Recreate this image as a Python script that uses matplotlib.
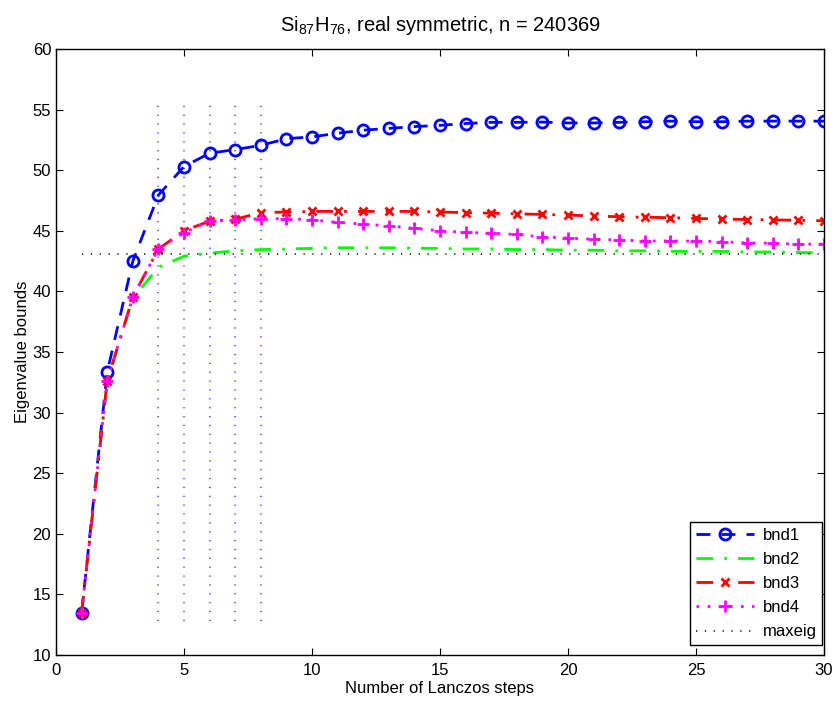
import numpy as np
import matplotlib.pyplot as plt

plt.rcParams['font.family'] = ['Liberation Sans', 'DejaVu Sans']
plt.rcParams['mathtext.fontset'] = 'custom'
plt.rcParams['mathtext.rm'] = 'Liberation Sans'

steps = np.arange(1, 31)
bnd1 = [13.5, 33.35, 42.5, 47.95, 50.3, 51.4, 51.7, 52.05, 52.6, 52.75,
        53.05, 53.3, 53.45, 53.6, 53.7, 53.85, 53.95, 53.95, 53.97, 53.9,
        53.9, 53.95, 54.0, 54.05, 54.0, 54.0, 54.05, 54.05, 54.05, 54.05]
bnd2 = [13.5, 32.6, 39.4, 42.0, 42.9, 43.15, 43.35, 43.45, 43.5, 43.55,
        43.6, 43.6, 43.6, 43.55, 43.55, 43.5, 43.5, 43.45, 43.45, 43.4,
        43.4, 43.35, 43.35, 43.3, 43.3, 43.3, 43.25, 43.25, 43.2, 43.2]
bnd3 = [13.5, 32.6, 39.55, 43.5, 45.0, 45.8, 45.95, 46.5, 46.55, 46.6,
        46.6, 46.6, 46.6, 46.6, 46.55, 46.5, 46.45, 46.4, 46.35, 46.3,
        46.22, 46.16, 46.12, 46.08, 46.02, 45.97, 45.93, 45.9, 45.87, 45.82]
bnd4 = [13.5, 32.6, 39.55, 43.5, 44.85, 45.8, 45.9, 46.0, 46.0, 45.9,
        45.7, 45.56, 45.4, 45.2, 45.0, 44.87, 44.8, 44.7, 44.5, 44.4,
        44.3, 44.25, 44.16, 44.16, 44.15, 44.1, 44.0, 43.97, 43.9, 43.9]
maxeig = 43.1
vlines_x = [4, 5, 6, 7, 8]
vline_lo, vline_hi = 12.8, 55.8

fig = plt.figure(figsize=(8.36, 7.04), dpi=100)
ax = fig.add_axes([0.067, 0.0696, 0.9186, 0.8608])

for xv in vlines_x:
    ax.plot([xv, xv], [vline_lo, vline_hi], color='#3a3aff', lw=1.1,
            dashes=(0.8, 5.0))

ax.plot(steps, bnd1, '--', color='b', lw=2, dashes=(5, 4), marker='o',
        ms=8, mfc='none', mew=2, label='bnd1')
ax.plot(steps, bnd2, '-.', color='#00ff00', lw=2, dashes=(6, 4, 1, 4),
        label='bnd2')
ax.plot(steps, bnd3, '-.', color='r', lw=2, dashes=(6, 4, 1, 4), marker='x',
        ms=6, mew=2, label='bnd3')
ax.plot(steps, bnd4, ':', color='#ff00ff', lw=2, dashes=(1, 3), marker='+',
        ms=9, mew=2, label='bnd4')
ax.plot([steps[0], steps[-1]], [maxeig, maxeig], color='k', lw=1.1,
        dashes=(0.8, 5.0), label='maxeig')

ax.set_xlim(0, 30)
ax.set_ylim(10, 60)
ax.set_xticks(np.arange(0, 31, 5))
ax.set_yticks(np.arange(10, 61, 5))
ax.tick_params(direction='in', top=True, right=True, labelsize=12, length=5)
ax.tick_params(axis='x', pad=6)
for s in ax.spines.values():
    s.set_linewidth(1)

ax.set_xlabel('Number of Lanczos steps', fontsize=12, labelpad=2)
ax.set_ylabel('Eigenvalue bounds', fontsize=12, labelpad=2)
ax.set_title(r'Si$_{\mathrm{87}}$H$_{\mathrm{76}}$, real symmetric, n = 240369',
             fontsize=14.5, pad=13)

leg = ax.legend(loc='lower right', bbox_to_anchor=(0.998, 0.016),
                borderaxespad=0, fontsize=12, numpoints=1,
                fancybox=False, framealpha=1, edgecolor='k', borderpad=0.35,
                handlelength=3.5, handletextpad=0.5, labelspacing=0.55)
leg.get_frame().set_linewidth(1)

fig.savefig('out.png', dpi=100)
